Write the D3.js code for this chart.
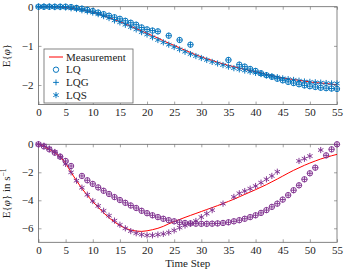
<!DOCTYPE html>
<html>
<head>
<meta charset="utf-8">
<script src="https://cdn.jsdelivr.net/npm/d3@7"></script>
<style>
	body { margin: 0; background: #fff; }
	text { font-family: 'Liberation Serif', 'DejaVu Serif', serif; fill: #222; }
</style>
</head>
<body>
<svg id="chart" width="346" height="272"></svg>
<script>
// time steps 0..55
const steps = d3.range(0, 56)
const xTicks = [0, 5, 10, 15, 20, 25, 30, 35, 40, 45, 50, 55]

// top panel: E{phi}
const measTop = [0, 0, 0, -0.01, -0.01, -0.02, -0.04, -0.06, -0.08, -0.11,
	-0.14, -0.18, -0.23, -0.28, -0.33, -0.38, -0.44, -0.5, -0.56, -0.62,
	-0.68, -0.74, -0.8, -0.87, -0.93, -0.99, -1.05, -1.11, -1.17, -1.23,
	-1.28, -1.33, -1.37, -1.42, -1.46, -1.5, -1.53, -1.57, -1.6, -1.63,
	-1.66, -1.69, -1.73, -1.76, -1.79, -1.82, -1.84, -1.86, -1.88, -1.9,
	-1.92, -1.94, -1.95, -1.96, -1.98, -1.99]
const lqTop = [0, 0, 0, 0, 0, 0, -0.01, -0.03, -0.05, -0.08,
	-0.11, -0.15, -0.19, -0.23, -0.27, -0.31, -0.36, -0.41, -0.46, -0.53,
	-0.58, -0.61, -0.63, null, -0.74, null, -0.85, null, -0.97, null,
	null, null, null, null, null, -1.36, null, -1.48, -1.53, -1.59,
	-1.64, -1.7, -1.75, -1.79, -1.84, -1.88, -1.92, -1.95, -1.98, -2.01,
	-2.03, -2.05, -2.07, -2.08, -2.09, -2.1]
const lqgTop = [0, 0, 0, 0, 0, 0, -0.01, -0.03, -0.05, -0.08,
	-0.11, -0.15, -0.19, -0.23, -0.27, -0.31, -0.36, -0.41, -0.46, -0.53,
	-0.58, -0.61, -0.63, null, -0.74, null, -0.85, null, -0.97, null,
	null, null, null, null, null, -1.36, null, -1.48, -1.53, -1.59,
	-1.64, -1.7, -1.75, -1.79, -1.84, -1.88, -1.92, -1.95, -1.98, -2.01,
	-2.03, -2.05, -2.07, -2.08, -2.09, -2.1]
const lqsTop = [0, 0, 0, -0.01, -0.01, -0.02, -0.04, -0.06, -0.09, -0.12,
	-0.15, -0.19, -0.24, -0.29, -0.35, -0.4, -0.46, -0.52, -0.58, -0.65,
	-0.71, -0.78, -0.85, -0.91, -0.97, -1.03, -1.09, -1.15, -1.21, -1.26,
	-1.31, -1.36, -1.41, -1.45, -1.49, -1.53, -1.57, -1.6, -1.63, -1.66,
	-1.69, -1.72, -1.75, -1.78, -1.8, -1.83, -1.85, -1.87, -1.89, -1.91,
	-1.92, -1.93, -1.94, -1.95, -1.96, -1.96]
const yTicksTop = [0, -1, -2]

// bottom panel: E{phi dot}
const measBot = [0, -0.15, -0.36, -0.6, -0.9, -1.35, -2.0, -2.6, -3.15, -3.65,
	-4.1, -4.5, -4.9, -5.25, -5.55, -5.8, -6.0, -6.13, -6.2, -6.22,
	-6.18, -6.1, -6.0, -5.86, -5.68, -5.52, -5.37, -5.22, -5.08, -4.94,
	-4.8, -4.66, -4.52, -4.38, -4.23, -4.08, -3.92, -3.75, -3.58, -3.41,
	-3.24, -3.06, -2.88, -2.68, -2.48, -2.27, -2.06, -1.86, -1.68, -1.5,
	-1.34, -1.19, -1.05, -0.93, -0.82, -0.72]
const lqBot = [0, -0.15, -0.36, -0.6, -0.88, -1.19, -1.55, null, -2.26, -2.57,
	-2.83, -3.08, -3.32, -3.55, -3.77, -3.98, -4.18, -4.37, -4.55, -4.75,
	-4.92, -5.07, -5.2, -5.32, -5.42, -5.5, -5.57, -5.62, -5.65, -5.67,
	-5.68, -5.68, -5.67, -5.65, -5.62, -5.57, -5.5, -5.42, -5.32, -5.2,
	-5.07, -4.9, -4.7, -4.47, -4.24, -3.95, -3.63, -3.28, -2.93, -2.5,
	-2.07, -1.67, null, -0.79, -0.36, 0]
const lqgBot = [0, -0.15, -0.36, -0.6, -0.88, -1.19, -1.55, null, -2.26, -2.57,
	-2.83, -3.08, -3.32, -3.55, -3.77, -3.98, -4.18, -4.37, -4.55, -4.75,
	-4.92, -5.07, -5.2, -5.32, -5.42, -5.5, -5.57, -5.62, -5.65, -5.67,
	-5.68, -5.68, -5.67, -5.65, -5.62, -5.57, -5.5, -5.42, -5.32, -5.2,
	-5.07, -4.9, -4.7, -4.47, -4.24, -3.95, -3.63, -3.28, -2.93, -2.5,
	-2.07, -1.67, null, -0.79, -0.36, 0]
const lqsBot = [0, -0.1, -0.3, -0.55, -0.9, -1.4, -2.0, -2.6, -3.1, -3.6,
	-4.05, -4.4, -4.75, -5.1, -5.45, -5.75, -6.0, -6.2, -6.35, -6.45,
	-6.5, -6.5, -6.45, -6.4, -6.3, -6.15, -5.95, -5.8, -5.67, -5.48,
	-5.2, -4.95, -4.7, null, -4.24, null, -3.76, -3.5, -3.34, -3.17,
	-2.98, -2.74, -2.5, -2.26, -1.96, null, null, null, -1.19, -1.03,
	-0.84, null, -0.41, null, null, null]
const yTicksBot = [0, -2, -4, -6]

const legendLabels = ['Measurement', 'LQ', 'LQG', 'LQS']

const red = '#ff0000'
const blue = '#0072bd'
const purple = '#7e2f8e'
const frameColor = '#666'
const fontSize = 11

const svg = d3.select('#chart')

const markerPath = {
	plus: 'M-2.9,0H2.9M0,-2.9V2.9',
	asterisk: 'M0,-3.1V3.1M-2.7,-1.55L2.7,1.55M-2.7,1.55L2.7,-1.55'
}

const drawMarker = (g, type, x, y, color) => {
	if (type === 'circle') {
		g.append('circle').attr('cx', x).attr('cy', y).attr('r', 2.7)
			.attr('fill', 'none').attr('stroke', color).attr('stroke-width', 0.95)
	} else {
		g.append('path').attr('transform', `translate(${x},${y})`).attr('d', markerPath[type])
			.attr('fill', 'none').attr('stroke', color).attr('stroke-width', 0.95)
	}
}

const panel = cfg => {
	const x = d3.scaleLinear().domain([0, 55]).range([38.5, 337])
	const y = d3.scaleLinear().domain(cfg.yDomain).range(cfg.yRange)
	const g = svg.append('g')
	const [x0, x1] = x.range()
	const [yb, yt] = y.range()

	// ticks on all four sides, pointing inward
	const tickLine = (ax, tr) => {
		const a = g.append('g').attr('transform', tr).call(ax)
		a.select('.domain').remove()
		a.selectAll('.tick line').attr('stroke', frameColor).attr('stroke-width', 0.6)
		a.selectAll('.tick text').attr('font-size', fontSize).attr('fill', '#222')
		return a
	}
	tickLine(d3.axisBottom(x).tickValues(xTicks).tickSize(-3).tickPadding(4), `translate(0,${yb})`)
	tickLine(d3.axisTop(x).tickValues(xTicks).tickSize(-3).tickFormat(''), `translate(0,${yt})`)
	tickLine(d3.axisLeft(y).tickValues(cfg.yTicks).tickSize(-3).tickPadding(5)
		.tickFormat(d => d === 0 ? '0' : '\u2212' + Math.abs(d)), `translate(${x0},0)`)
	tickLine(d3.axisRight(y).tickValues(cfg.yTicks).tickSize(-3).tickFormat(''), `translate(${x1},0)`)

	g.append('rect').attr('x', x0).attr('y', yt).attr('width', x1 - x0).attr('height', yb - yt)
		.attr('fill', 'none').attr('stroke', frameColor).attr('stroke-width', 0.8)

	const line = d3.line().x((d, i) => x(steps[i])).y(d => y(d))
	g.append('path').datum(cfg.meas).attr('d', line)
		.attr('fill', 'none').attr('stroke', red).attr('stroke-width', 1)

	const mg = g.append('g')
	cfg.series.forEach(s => {
		s.values.forEach((v, i) => {
			if (v === null) return
			drawMarker(mg, s.marker, x(steps[i]), y(v), cfg.color)
		})
	})

	// y label
	const lab = g.append('text')
		.attr('transform', `translate(10,${(yt + yb) / 2}) rotate(-90)`)
		.attr('text-anchor', 'middle').attr('font-size', fontSize)
	cfg.ylabel(lab)
	return { x, y, g }
}

panel({
	yDomain: [-2.5, 0], yRange: [104.6, 6.7], yTicks: yTicksTop,
	meas: measTop, color: blue,
	series: [
		{ values: lqTop, marker: 'circle' },
		{ values: lqgTop, marker: 'plus' },
		{ values: lqsTop, marker: 'asterisk' }
	],
	ylabel: t => {
		t.append('tspan').text('E{')
		t.append('tspan').attr('font-style', 'italic').text('\u03c6')
		t.append('tspan').text('}')
	}
})

panel({
	yDomain: [-7, 0], yRange: [242.3, 144.3], yTicks: yTicksBot,
	meas: measBot, color: purple,
	series: [
		{ values: lqBot, marker: 'circle' },
		{ values: lqgBot, marker: 'plus' },
		{ values: lqsBot, marker: 'asterisk' }
	],
	ylabel: t => {
		t.append('tspan').text('E{')
		t.append('tspan').attr('font-style', 'italic').text('\u03c6\u0307')
		t.append('tspan').text('} in s')
		t.append('tspan').attr('font-size', 7.5).attr('dy', -4).text('\u22121')
	}
})

svg.append('text').attr('x', 187.7).attr('y', 267).attr('text-anchor', 'middle')
	.attr('font-size', fontSize).text('Time Step')

// legend
const lg = svg.append('g').attr('transform', 'translate(44,49)')
lg.append('rect').attr('width', 89).attr('height', 54)
	.attr('fill', '#fff').attr('stroke', frameColor).attr('stroke-width', 0.8)
const legendMarks = ['line', 'circle', 'plus', 'asterisk']
legendLabels.forEach((name, i) => {
	const cy = 8 + i * 12.7
	if (legendMarks[i] === 'line') {
		lg.append('line').attr('x1', 5).attr('x2', 19).attr('y1', cy).attr('y2', cy)
			.attr('stroke', red).attr('stroke-width', 1)
	} else {
		drawMarker(lg, legendMarks[i], 12, cy, blue)
	}
	lg.append('text').attr('x', 22).attr('y', cy + 3.7).attr('font-size', fontSize).text(name)
})
</script>
</body>
</html>
